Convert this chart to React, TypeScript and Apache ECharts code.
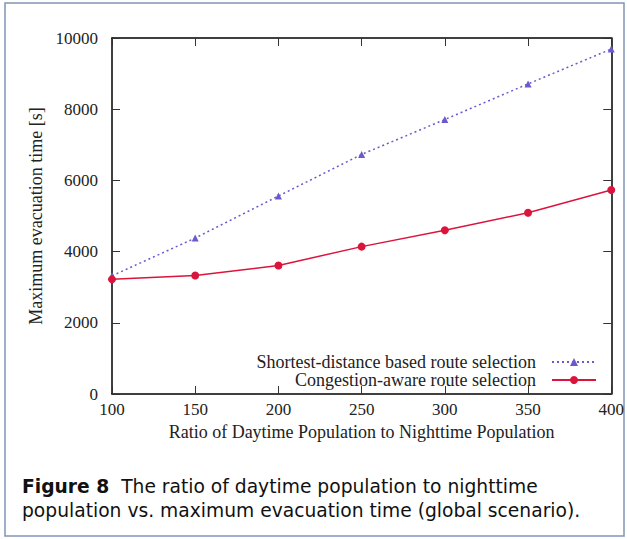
import React, { useEffect, useRef } from "react";
import * as echarts from "echarts";

const ratios = [100, 150, 200, 250, 300, 350, 400];
const shortestTimes = [3320, 4380, 5560, 6730, 7710, 8710, 9690];
const congestionTimes = [3220, 3330, 3610, 4140, 4600, 5090, 5730];
const seriesNames = ["Shortest-distance based route selection", "Congestion-aware route selection"];
const xTitle = "Ratio of Daytime Population to Nighttime Population";
const yTitle = "Maximum evacuation time [s]";
const captionBold = "Figure 8";
const captionLine1 = "The ratio of daytime population to nighttime";
const captionLine2 = "population vs. maximum evacuation time (global scenario).";

const SERIF = "'Liberation Serif', 'DejaVu Serif', serif";
const SANS = "'DejaVu Sans', 'Open Sans', sans-serif";

export default function App() {
  const ref = useRef<HTMLDivElement>(null);
  useEffect(() => {
    const chart = echarts.init(ref.current!, undefined, { renderer: "svg" });
    const axisCommon = {
      type: "value" as const,
      axisLine: { show: true, onZero: false, lineStyle: { color: "#000", width: 1.5 } },
      axisTick: { show: true, inside: true, length: 8, lineStyle: { color: "#333", width: 1 } },
      splitLine: { show: false },
    };
    const plain = (v: number) => String(v);
    chart.setOption({
      animation: false,
      backgroundColor: "#fff",
      grid: { left: 112, top: 38, right: 12, bottom: 145, containLabel: false },
      xAxis: [
        {
          ...axisCommon,
          position: "bottom",
          min: 100,
          max: 400,
          interval: 50,
          name: xTitle,
          nameLocation: "middle",
          nameGap: 25,
          nameTextStyle: { fontFamily: SERIF, fontSize: 18, color: "#222" },
          axisLabel: { fontFamily: SERIF, fontSize: 17, color: "#222", margin: 7, formatter: plain },
        },
        {
          ...axisCommon,
          position: "top",
          min: 100,
          max: 400,
          interval: 50,
          axisLabel: { show: false },
        },
      ],
      yAxis: [
        {
          ...axisCommon,
          position: "left",
          min: 0,
          max: 10000,
          interval: 2000,
          name: yTitle,
          nameLocation: "middle",
          nameGap: 52,
          nameTextStyle: { fontFamily: SERIF, fontSize: 18, color: "#222" },
          axisLabel: { fontFamily: SERIF, fontSize: 17, color: "#222", margin: 14, formatter: plain },
        },
        {
          ...axisCommon,
          position: "right",
          min: 0,
          max: 10000,
          interval: 2000,
          axisLabel: { show: false },
        },
      ],
      legend: {
        right: 30,
        top: 353,
        padding: 0,
        orient: "vertical",
        align: "right",
        itemWidth: 44,
        itemHeight: 10,
        itemGap: 0,
        textStyle: {
          fontFamily: SERIF,
          fontSize: 18,
          lineHeight: 16,
          color: "#222",
          padding: [0, 11, 0, 0],
        },
        data: seriesNames,
      },
      series: [
        {
          name: seriesNames[0],
          type: "line",
          data: ratios.map((x, i) => [x, shortestTimes[i]]),
          symbol: "triangle",
          symbolSize: 7,
          lineStyle: { color: "#6a5acd", width: 1.5, type: [2, 3] },
          itemStyle: { color: "#6a5acd" },
        },
        {
          name: seriesNames[1],
          type: "line",
          data: ratios.map((x, i) => [x, congestionTimes[i]]),
          symbol: "circle",
          symbolSize: 8,
          lineStyle: { color: "#dc143c", width: 1.5 },
          itemStyle: { color: "#dc143c" },
        },
      ],
      graphic: [
        {
          type: "rect",
          shape: { x: 5, y: 3, width: 619, height: 533 },
          style: { fill: "none", stroke: "#7f95b5", lineWidth: 1.5 },
          silent: true,
          z: -1,
        },
        {
          type: "text",
          left: 22,
          top: 475,
          style: {
            text: `{b|${captionBold}}  ${captionLine1}`,
            fontFamily: SANS,
            fontSize: 18.7,
            lineHeight: 22,
            fill: "#111",
            rich: { b: { fontFamily: SANS, fontSize: 18.7, lineHeight: 22, fontWeight: "bold", fill: "#111" } },
          },
        },
        {
          type: "text",
          left: 22,
          top: 499,
          style: {
            text: captionLine2,
            fontFamily: SANS,
            fontSize: 18.7,
            lineHeight: 22,
            fill: "#111",
          },
        },
      ],
    });
    return () => chart.dispose();
  }, []);
  return (
    <div
      ref={ref}
      style={{ position: "fixed", left: 0, top: 0, width: 627, height: 539, background: "#fff" }}
    />
  );
}
